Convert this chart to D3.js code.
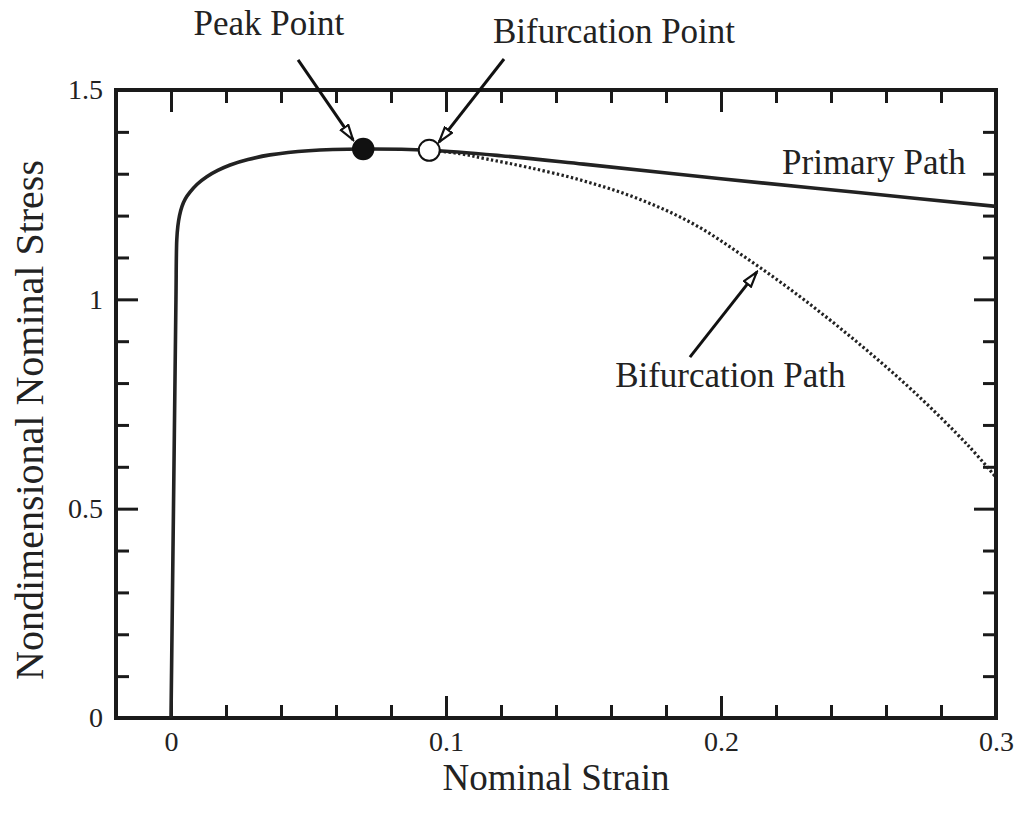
<!DOCTYPE html>
<html>
<head>
<meta charset="utf-8">
<title>Nominal stress vs strain</title>
<script src="https://cdnjs.cloudflare.com/ajax/libs/d3/7.8.5/d3.min.js"></script>
<style>
  body { margin: 0; background: #fff; }
  text { font-family: "Liberation Serif", "Times New Roman", serif; fill: #222; }
</style>
</head>
<body>
<div id="chart"></div>
<script>
// primary path (solid)
const primaryStrain = [0, 0.0009, 0.0018, 0.0021, 0.0025, 0.0031, 0.0040, 0.0052, 0.0069, 0.0095, 0.013, 0.017, 0.0215, 0.028, 0.036, 0.05, 0.07, 0.094, 0.12, 0.15, 0.2, 0.25, 0.3];
const primaryStress = [0, 0.5, 1.0, 1.142, 1.175, 1.200, 1.222, 1.240, 1.256, 1.275, 1.293, 1.308, 1.321, 1.334, 1.345, 1.355, 1.359, 1.356, 1.343, 1.323, 1.288, 1.255, 1.222];

// bifurcation path (dotted), leaves the primary path at the bifurcation point
const bifStrain = [0.094, 0.105, 0.115, 0.13, 0.15, 0.17, 0.19, 0.21, 0.23, 0.25, 0.27, 0.29, 0.3];
const bifStress = [1.356, 1.348, 1.335, 1.315, 1.283, 1.240, 1.180, 1.095, 1.000, 0.895, 0.780, 0.650, 0.575];

const peakPoint = [0.0699, 1.359];
const bifPoint = [0.0939, 1.356];

const xMajor = [0, 0.1, 0.2, 0.3];
const xMinor = [0.02, 0.04, 0.06, 0.08, 0.12, 0.14, 0.16, 0.18, 0.22, 0.24, 0.26, 0.28];
const yMajor = [0, 0.5, 1, 1.5];
const yMinor = [0.1, 0.2, 0.3, 0.4, 0.6, 0.7, 0.8, 0.9, 1.1, 1.2, 1.3, 1.4];

const W = 1016, H = 814;
const m = { left: 116, right: 20, top: 90, bottom: 96 };

const svg = d3.select('#chart').append('svg')
  .attr('width', W).attr('height', H);

const x = d3.scaleLinear().domain([-0.02, 0.3]).range([m.left, W - m.right]);
const y = d3.scaleLinear().domain([0, 1.5]).range([H - m.bottom, m.top]);

// arrowhead (open triangle)
svg.append('defs').append('marker')
  .attr('id', 'head')
  .attr('markerUnits', 'userSpaceOnUse')
  .attr('viewBox', '0 0 18 12')
  .attr('refX', 16).attr('refY', 6)
  .attr('markerWidth', 18).attr('markerHeight', 12)
  .attr('orient', 'auto')
  .append('path')
  .attr('d', 'M1,1.5 L16,6 L1,10.5 Z')
  .attr('fill', '#fff').attr('stroke', '#111').attr('stroke-width', 2.2);

// ticks, all pointing inwards
function tickStyle(g) {
  g.select('.domain').remove();
  g.selectAll('.tick line').attr('stroke', '#1a1a1a').attr('stroke-width', 3);
  g.selectAll('.tick text').style('font-size', '28px').attr('fill', '#222')
    .style('font-family', '"Liberation Serif", "Times New Roman", serif');
}

const yb = H - m.bottom, yt = m.top, xl = m.left, xr = W - m.right;

svg.append('g').attr('transform', `translate(0,${yb})`)
  .call(d3.axisBottom(x).tickValues(xMinor).tickSize(-13).tickFormat('')).call(tickStyle);
svg.append('g').attr('transform', `translate(0,${yb})`)
  .call(d3.axisBottom(x).tickValues(xMajor).tickSize(-22).tickPadding(13).tickFormat(d3.format('~g'))).call(tickStyle);
svg.append('g').attr('transform', `translate(0,${yt})`)
  .call(d3.axisTop(x).tickValues(xMinor).tickSize(-13).tickFormat('')).call(tickStyle);
svg.append('g').attr('transform', `translate(0,${yt})`)
  .call(d3.axisTop(x).tickValues(xMajor).tickSize(-22).tickFormat('')).call(tickStyle);

svg.append('g').attr('transform', `translate(${xl},0)`)
  .call(d3.axisLeft(y).tickValues(yMinor).tickSize(-13).tickFormat('')).call(tickStyle);
svg.append('g').attr('transform', `translate(${xl},0)`)
  .call(d3.axisLeft(y).tickValues(yMajor).tickSize(-22).tickPadding(13).tickFormat(d3.format('~g'))).call(tickStyle);
svg.append('g').attr('transform', `translate(${xr},0)`)
  .call(d3.axisRight(y).tickValues(yMinor).tickSize(-13).tickFormat('')).call(tickStyle);
svg.append('g').attr('transform', `translate(${xr},0)`)
  .call(d3.axisRight(y).tickValues(yMajor).tickSize(-22).tickFormat('')).call(tickStyle);

// frame
svg.append('rect')
  .attr('x', xl).attr('y', yt)
  .attr('width', xr - xl).attr('height', yb - yt)
  .attr('fill', 'none').attr('stroke', '#1a1a1a').attr('stroke-width', 4);

const line = d3.line().x(d => x(d[0])).y(d => y(d[1])).curve(d3.curveCatmullRom.alpha(0.5));

svg.append('clipPath').attr('id', 'plot').append('rect')
  .attr('x', xl).attr('y', yt).attr('width', xr - xl).attr('height', yb - yt);

svg.append('path')
  .datum(bifStrain.map((s, i) => [s, bifStress[i]]))
  .attr('d', line)
  .attr('fill', 'none').attr('stroke', '#222')
  .attr('stroke-width', 3.2).attr('stroke-dasharray', '2.4,2.4')
  .attr('clip-path', 'url(#plot)');

svg.append('path')
  .datum(primaryStrain.map((s, i) => [s, primaryStress[i]]))
  .attr('d', line)
  .attr('fill', 'none').attr('stroke', '#222')
  .attr('stroke-width', 3.6)
  .attr('clip-path', 'url(#plot)');

// marked points
svg.append('circle')
  .attr('cx', x(peakPoint[0])).attr('cy', y(peakPoint[1])).attr('r', 10.5)
  .attr('fill', '#111').attr('stroke', '#111').attr('stroke-width', 1.5);
svg.append('circle')
  .attr('cx', x(bifPoint[0])).attr('cy', y(bifPoint[1])).attr('r', 10.5)
  .attr('fill', '#fff').attr('stroke', '#111').attr('stroke-width', 2);

// annotations: label, text position, arrow from / to (data units)
const notes = [
  { label: 'Peak Point', at: [0.0356, 1.632], anchor: 'middle', from: [0.0462, 1.572], to: [0.0662, 1.381] },
  { label: 'Bifurcation Point', at: [0.1611, 1.612], anchor: 'middle', from: [0.1211, 1.574], to: [0.0975, 1.376] },
  { label: 'Primary Path', at: [0.2222, 1.299], anchor: 'start', from: null, to: null },
  { label: 'Bifurcation Path', at: [0.1615, 0.791], anchor: 'start', from: [0.1887, 0.862], to: [0.2130, 1.065] }
];

notes.forEach(n => {
  if (n.from) {
    svg.append('line')
      .attr('x1', x(n.from[0])).attr('y1', y(n.from[1]))
      .attr('x2', x(n.to[0])).attr('y2', y(n.to[1]))
      .attr('stroke', '#111').attr('stroke-width', 3)
      .attr('marker-end', 'url(#head)');
  }
  svg.append('text')
    .attr('x', x(n.at[0])).attr('y', y(n.at[1]))
    .attr('text-anchor', n.anchor)
    .style('font-size', '35px')
    .text(n.label);
});

// axis titles
svg.append('text')
  .attr('x', (xl + xr) / 2).attr('y', 790)
  .attr('text-anchor', 'middle')
  .style('font-size', '37px')
  .text('Nominal Strain');

svg.append('text')
  .attr('transform', `translate(43,420) rotate(-90)`)
  .attr('text-anchor', 'middle')
  .style('font-size', '40px')
  .text('Nondimensional Nominal Stress');
</script>
</body>
</html>
